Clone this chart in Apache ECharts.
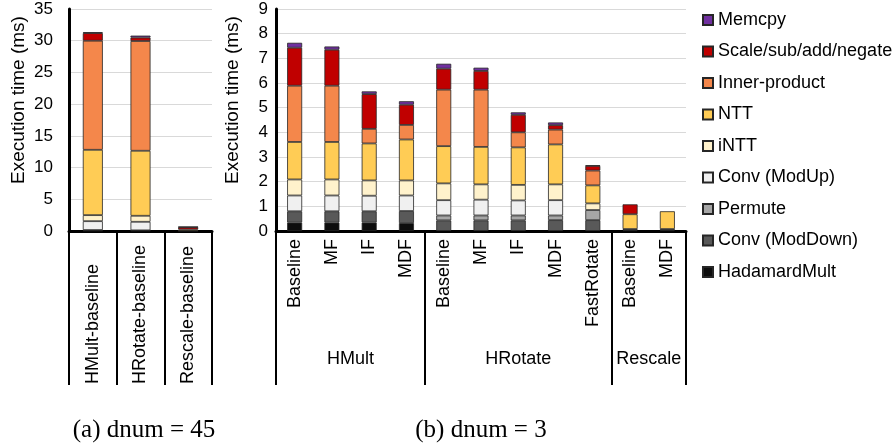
<!DOCTYPE html>
<html>
<head>
<meta charset="utf-8">
<title>Execution time breakdown</title>
<script src="https://cdn.jsdelivr.net/npm/echarts@6/dist/echarts.min.js"></script>
<style>
  html, body { margin: 0; padding: 0; background: #fff; }
  #chart { width: 895px; height: 445px; }
</style>
</head>
<body>
<div id="chart"></div>
<script>
// (a) dnum = 45
var catsA = ['HMult-baseline', 'HRotate-baseline', 'Rescale-baseline'];
// (b) dnum = 3
var catsB = ['Baseline', 'MF', 'IF', 'MDF', 'Baseline', 'MF', 'IF', 'MDF', 'FastRotate', 'Baseline', 'MDF'];
var groupNames = ['HMult', 'HRotate', 'Rescale'];
var groupSizes = [4, 5, 2];

// y axis ranges (ms)
var yMaxA = 35, yStepA = 5;
var yMaxB = 9, yStepB = 1;

// stack parts, bottom -> top
var parts = ['HadamardMult', 'Conv (ModDown)', 'Permute', 'Conv (ModUp)', 'iNTT', 'NTT', 'Inner-product', 'Scale/sub/add/negate', 'Memcpy'];
var colors = ['#0d0d0d', '#595959', '#a6a6a6', '#f0f0f0', '#fff2cc', '#ffcc55', '#f4874b', '#c00000', '#7030a0'];

// (a) values, ms
var hadamardA = [0.08, 0, 0];
var modDownA = [0.07, 0.05, 0.02];
var permuteA = [0, 0.05, 0];
var modUpA = [1.4, 1.35, 0];
var inttA = [0.95, 0.95, 0];
var nttA = [10.3, 10.25, 0.22];
var innerA = [17.2, 17.3, 0];
var scaleA = [1.2, 0.55, 0.38];
var memcpyA = [0.15, 0.3, 0.04];

// (b) values, ms
var hadamardB = [0.34, 0.34, 0.34, 0.32, 0, 0, 0, 0, 0, 0.03, 0.03];
var modDownB = [0.46, 0.46, 0.46, 0.49, 0.43, 0.43, 0.43, 0.44, 0.44, 0.05, 0.05];
var permuteB = [0, 0, 0, 0, 0.2, 0.2, 0.2, 0.19, 0.41, 0, 0];
var modUpB = [0.64, 0.64, 0.63, 0.63, 0.62, 0.64, 0.61, 0.62, 0, 0, 0];
var inttB = [0.65, 0.65, 0.62, 0.61, 0.68, 0.62, 0.63, 0.64, 0.27, 0, 0];
var nttB = [1.52, 1.52, 1.5, 1.66, 1.51, 1.52, 1.52, 1.62, 0.73, 0.6, 0.72];
var innerB = [2.28, 2.28, 0.59, 0.59, 2.29, 2.32, 0.61, 0.6, 0.6, 0, 0];
var scaleB = [1.54, 1.46, 1.41, 0.82, 0.85, 0.76, 0.71, 0.18, 0.19, 0.4, 0];
var memcpyB = [0.2, 0.13, 0.11, 0.14, 0.2, 0.13, 0.1, 0.11, 0.02, 0, 0];

var dataA = [hadamardA, modDownA, permuteA, modUpA, inttA, nttA, innerA, scaleA, memcpyA];
var dataB = [hadamardB, modDownB, permuteB, modUpB, inttB, nttB, innerB, scaleB, memcpyB];

var sans = 'Liberation Sans, Arial, sans-serif';
var serif = 'Liberation Serif, Times New Roman, serif';

// group start indexes and centers for (b)
var groupStarts = [];
var groupCenters = [];
var acc = 0;
groupSizes.forEach(function (n) {
  groupStarts.push(acc);
  groupCenters.push(acc + n / 2);
  acc += n;
});

function makeBar(name, color, values, idx, stack, width) {
  return {
    name: name,
    type: 'bar',
    stack: stack,
    xAxisIndex: idx,
    yAxisIndex: idx,
    barWidth: width,
    // zero parts are skipped so they leave no border line
    data: values.map(function (v) { return v === 0 ? null : v; }),
    itemStyle: {
      color: color,
      borderColor: '#262626',
      borderWidth: 0.8
    }
  };
}

var series = [];
parts.forEach(function (name, i) {
  series.push(makeBar(name, colors[i], dataA[i], 0, 'a', 20));
  series.push(makeBar(name, colors[i], dataB[i], 1, 'b', 15));
});

function yAxis(gridIndex, max, step, nameGap, margin) {
  return {
    type: 'value',
    gridIndex: gridIndex,
    min: 0,
    max: max,
    interval: step,
    name: 'Execution time (ms)',
    nameLocation: 'middle',
    nameGap: nameGap,
    nameTextStyle: { fontSize: 19, color: '#000', fontFamily: sans, padding: [0, 0, 0, 40] },
    axisLine: { show: true, lineStyle: { color: '#000', width: 3 } },
    axisTick: { show: false },
    axisLabel: { fontSize: 17, color: '#000', fontFamily: sans, margin: margin },
    splitLine: { lineStyle: { color: '#d9d9d9', width: 1 } }
  };
}

var chart = echarts.init(document.getElementById('chart'));
chart.setOption({
  animation: false,
  backgroundColor: '#fff',
  title: [
    { text: '(a) dnum = 45', left: 139, top: 413, textAlign: 'center',
      textStyle: { fontFamily: serif, fontSize: 25, fontWeight: 'normal', color: '#000' } },
    { text: '(b) dnum = 3', left: 476, top: 413, textAlign: 'center',
      textStyle: { fontFamily: serif, fontSize: 25, fontWeight: 'normal', color: '#000' } }
  ],
  legend: {
    orient: 'vertical',
    left: 697,
    top: 6,
    icon: 'rect',
    itemWidth: 10,
    itemHeight: 10,
    itemGap: 13.5,
    textStyle: { fontSize: 18, lineHeight: 18, color: '#000', fontFamily: sans },
    data: parts.slice().reverse()
  },
  grid: [
    { left: 69, top: 9, width: 143, height: 222 },
    { left: 276, top: 9, width: 410, height: 222 }
  ],
  xAxis: [
    {
      type: 'category',
      gridIndex: 0,
      data: catsA,
      axisLine: { lineStyle: { color: '#000', width: 3 } },
      axisTick: { show: true, interval: 0, length: 154, lineStyle: { color: '#000', width: 2 } },
      // labels start at the bottom of the separators
      axisLabel: { rotate: 90, align: 'left', margin: 153, fontSize: 18, color: '#000', fontFamily: sans, interval: 0 }
    },
    {
      type: 'category',
      gridIndex: 1,
      data: catsB,
      axisLine: { lineStyle: { color: '#000', width: 3 } },
      axisTick: {
        show: true,
        length: 154,
        lineStyle: { color: '#000', width: 2 },
        interval: function (index) { return groupStarts.indexOf(index) >= 0; }
      },
      axisLabel: { rotate: 90, margin: 8, fontSize: 18, color: '#000', fontFamily: sans, interval: 0 }
    },
    {
      // group names under (b)
      type: 'value',
      gridIndex: 1,
      position: 'bottom',
      min: 0,
      max: acc,
      axisLine: { show: false },
      axisTick: { show: false },
      splitLine: { show: false },
      axisLabel: {
        customValues: groupCenters,
        margin: 119,
        fontSize: 18,
        color: '#000',
        fontFamily: sans,
        formatter: function (v) {
          var i = groupCenters.indexOf(v);
          return i >= 0 ? groupNames[i] : '';
        }
      }
    }
  ],
  yAxis: [
    yAxis(0, yMaxA, yStepA, 41, 16),
    yAxis(1, yMaxB, yStepB, 34, 8)
  ],
  series: series
});
</script>
</body>
</html>
